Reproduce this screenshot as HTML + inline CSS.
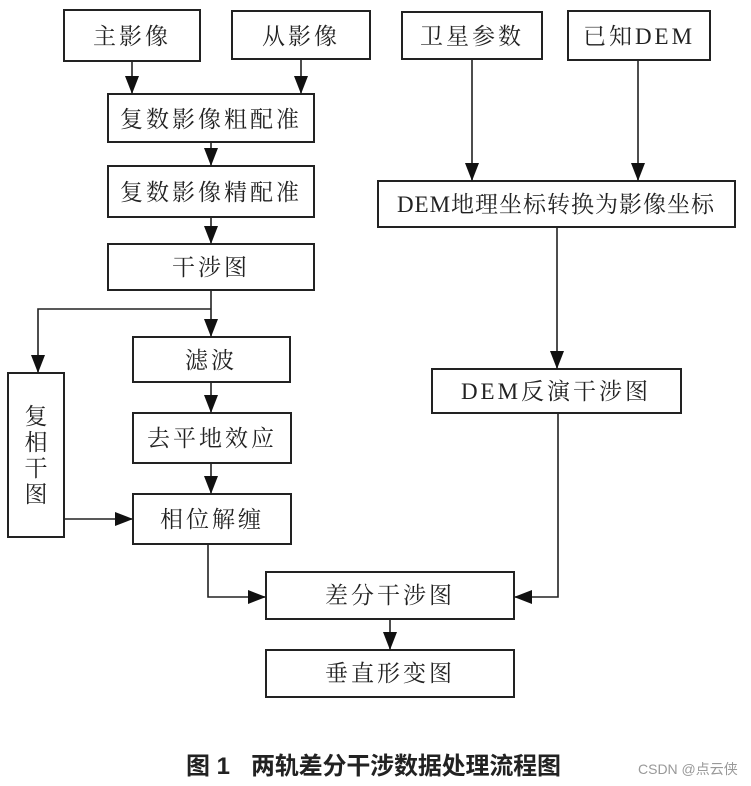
<!DOCTYPE html>
<html><head><meta charset="utf-8"><style>
html,body{margin:0;padding:0;background:#fff;}
svg{display:block;}
text{font-family:"Liberation Serif","Noto Serif CJK SC","Noto Sans CJK SC",serif;fill:#222;}
</style></head><body>
<svg width="751" height="786" viewBox="0 0 751 786" xmlns="http://www.w3.org/2000/svg">
<defs><marker id="a" markerWidth="18" markerHeight="14" refX="17" refY="7" orient="auto" markerUnits="userSpaceOnUse"><path d="M0,0 L18,7 L0,14 z" fill="#111"/></marker></defs>
<g fill="none" stroke="#222" stroke-width="2">
<rect x="64" y="10" width="136" height="51"/>
<rect x="232" y="11" width="138" height="48"/>
<rect x="402" y="12" width="140" height="47"/>
<rect x="568" y="11" width="142" height="49"/>
<rect x="108" y="94" width="206" height="48"/>
<rect x="108" y="166" width="206" height="51"/>
<rect x="108" y="244" width="206" height="46"/>
<rect x="378" y="181" width="357" height="46"/>
<rect x="133" y="337" width="157" height="45"/>
<rect x="432" y="369" width="249" height="44"/>
<rect x="8" y="373" width="56" height="164"/>
<rect x="133" y="413" width="158" height="50"/>
<rect x="133" y="494" width="158" height="50"/>
<rect x="266" y="572" width="248" height="47"/>
<rect x="266" y="650" width="248" height="47"/>
</g>
<g fill="none" stroke="#222" stroke-width="1.6" marker-end="url(#a)">
<line x1="132" y1="61" x2="132" y2="93"/>
<line x1="301" y1="59" x2="301" y2="93"/>
<line x1="211" y1="142" x2="211" y2="165"/>
<line x1="211" y1="217" x2="211" y2="243"/>
<polyline points="211,290 211,336"/>
<polyline points="211,309 38,309 38,372"/>
<line x1="211" y1="382" x2="211" y2="412"/>
<line x1="211" y1="463" x2="211" y2="493"/>
<line x1="64" y1="519" x2="132" y2="519"/>
<polyline points="208,544 208,597 265,597"/>
<line x1="472" y1="59" x2="472" y2="180"/>
<line x1="638" y1="60" x2="638" y2="180"/>
<line x1="557" y1="227" x2="557" y2="368"/>
<polyline points="558,413 558,597 515,597"/>
<line x1="390" y1="619" x2="390" y2="649"/>
</g>
<g font-size="23" text-anchor="middle" letter-spacing="3">
<text x="132" y="44">主影像</text>
<text x="301" y="44">从影像</text>
<text x="472" y="44">卫星参数</text>
<text x="639" y="44">已知DEM</text>
<text x="211" y="127">复数影像粗配准</text>
<text x="211" y="200">复数影像精配准</text>
<text x="211" y="275">干涉图</text>
<text x="556" y="212" letter-spacing="1">DEM地理坐标转换为影像坐标</text>
<text x="211" y="368">滤波</text>
<text x="556" y="399">DEM反演干涉图</text>
<text x="212" y="446">去平地效应</text>
<text x="212" y="527">相位解缠</text>
<text x="390" y="603">差分干涉图</text>
<text x="390" y="681">垂直形变图</text>
<text x="36" y="424" letter-spacing="0">复</text>
<text x="36" y="450" letter-spacing="0">相</text>
<text x="36" y="476" letter-spacing="0">干</text>
<text x="36" y="502" letter-spacing="0">图</text>
</g>
<text x="186" y="774" font-size="24" font-weight="bold" fill="#111" style="font-family:'Liberation Sans','Noto Sans CJK SC',sans-serif">图 1</text>
<text x="251" y="774" font-size="24" font-weight="bold" fill="#111" style="font-family:'Liberation Sans','Noto Sans CJK SC',sans-serif" textLength="310">两轨差分干涉数据处理流程图</text>
<text x="638" y="774" font-size="14" style="font-family:'Liberation Sans','Noto Sans CJK SC',sans-serif;fill:#999">CSDN @点云侠</text>
</svg>
</body></html>
